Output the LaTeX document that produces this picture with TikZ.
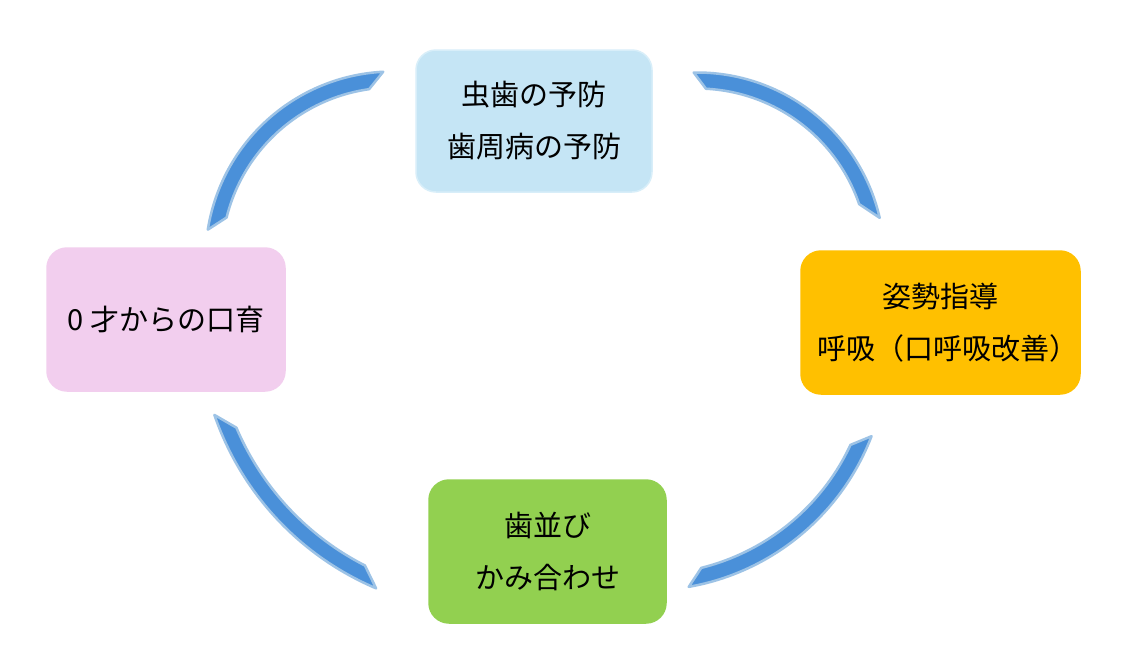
\documentclass[tikz,border=0pt]{standalone}
\usepackage{fontspec}
\newfontfamily\jp{Noto Sans CJK JP}
\definecolor{bandfill}{HTML}{4A90D9}
\definecolor{bandedge}{HTML}{9DC3E6}
\definecolor{topfill}{HTML}{C5E5F5}
\definecolor{topedge}{HTML}{D8EEF9}
\definecolor{rightfill}{HTML}{FFC000}
\definecolor{bottomfill}{HTML}{92D050}
\definecolor{leftfill}{HTML}{F2CEEE}
\begin{document}
\begin{tikzpicture}[x=1pt,y=-1pt,
  box/.style={rounded corners=20pt, align=center, inner sep=0pt,
    font=\jp\fontsize{29}{52}\selectfont, line width=1.5pt},
  band/.style={fill=bandfill, draw=bandedge, line width=2.5pt, line join=round}]
\fill[white] (0,0) rectangle (1121,657);
\useasboundingbox (0,0) rectangle (1121,657);

% boxes
\node[box, fill=topfill, draw=topedge, minimum width=236pt, minimum height=142pt] (prev) at (534,121) {虫歯の予防\\歯周病の予防};
\node[box, fill=rightfill, draw=rightfill, minimum width=279pt, minimum height=143pt] (posture) at (940.5,322.5) {姿勢指導\\\hspace*{0.5em}呼吸（口呼吸改善）};
\node[box, fill=bottomfill, draw=bottomfill, minimum width=237pt, minimum height=143pt] (teeth) at (547.5,551.5) {歯並び\\かみ合わせ};
\node[box, fill=leftfill, draw=leftfill, minimum width=238pt, minimum height=143pt] (mouth) at (166,319.5) {0 才からの口育};

% curved bands
\draw[band, shift={(393,259)}] (189:187.5) arc[start angle=189, end angle=267, radius=187.5]
  -- (262:171.5) arc[start angle=262, end angle=194, radius=171.5] -- cycle;
\draw[band, shift={(697,260)}] (269:187.5) arc[start angle=269, end angle=347, radius=187.5]
  -- (341:171.5) arc[start angle=341, end angle=273, radius=171.5] -- cycle;
\draw[band, shift={(490,320)}] (161:291.5) arc[start angle=161, end angle=113, radius=291.5]
  -- (117:275.5) arc[start angle=117, end angle=157, radius=275.5] -- cycle;
\draw[band, shift={(647,350)}] (21:240.5) arc[start angle=21, end angle=80, radius=240.5]
  -- (76:224.5) arc[start angle=76, end angle=25, radius=224.5] -- cycle;
\end{tikzpicture}
\end{document}
